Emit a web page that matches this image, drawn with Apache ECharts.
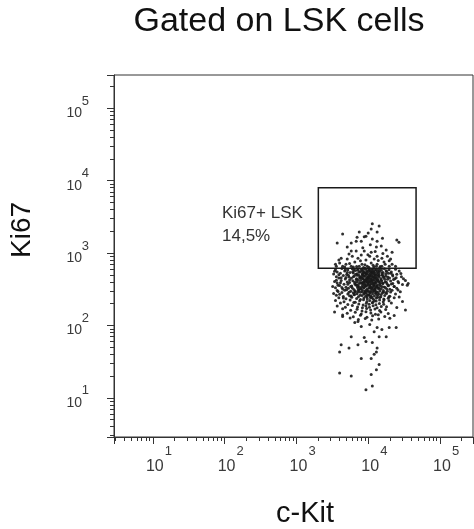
<!DOCTYPE html>
<html>
<head>
<meta charset="utf-8">
<script src="https://cdn.jsdelivr.net/npm/echarts@6/dist/echarts.min.js"></script>
<style>html,body{margin:0;padding:0;background:#fff}#c{width:474px;height:529px}</style>
</head>
<body>
<div id="c"></div>
<script>
// Axis extents (log scale, 5 decades shown)
const axisMin = 2.88;
const axisMax = 288000;
// Tick label parts: base and decade exponents
const tickBase = '10';
const tickExponents = {10: '1', 100: '2', 1000: '3', 10000: '4', 100000: '5'};
// Gate (c-Kit range, Ki67 range)
const gateCKit = [2020, 46400];
const gateKi67 = [617, 8000];
const gateLabel = ['Ki67+ LSK', '14,5%'];
const titleText = 'Gated on LSK cells';
const xName = 'c-Kit';
const yName = 'Ki67';

// Events inside the Ki67+ gate [c-Kit, Ki67]
const gatedCells = [
[11400,2530],[14200,2370],[11000,2150],[7500,1960],[13300,1960],[4400,1840],[9300,1710],[8800,1680],
[11400,1560],[25000,1510],[3700,1380],[5800,1380],[6800,1460],[8000,1460],[13300,1460],[26800,1410],
[5100,1210],[13000,1210],[15200,1250],[5800,1070],[6800,1070],[8800,1070],[11000,1030],[17800,1100],
[21500,1030],[5400,970],[8000,940],[10500,900],[13300,900],[18500,900],[4200,850],[5100,825],
[7200,850],[9300,800],[12100,825],[15500,850],[19600,780],[4000,730],[4900,700],[6500,750],
[8200,700],[11000,730],[13300,700],[16600,750],[21500,700],[3600,660],[4400,660],[5800,660],
[7500,660],[9700,660],[13000,660],[15500,660],[19600,660],[6200,640],[10200,635],[12000,645],
[8600,630],[14500,628],
[3500,700],[3900,800],[4700,640],[5500,720],[6000,900],[6900,650],[7800,780],[8400,1180],[9000,690],[9900,950],
[10700,1300],[11700,680],[12500,1050],[13800,790],[14700,650],[16000,990],[17200,700],[20500,830],[24000,660],
[7000,1650],[10000,1900],[15800,1600]
];

// Events in the main (Ki67 low) population [c-Kit, Ki67]
const mainCells = [
[3500,590],[4300,612],[5200,585],[6000,605],[7100,578],[8000,598],[9000,615],[10200,582],[11500,602],[12800,590],[14500,575],[16800,608],[19500,588],[24000,596],
[3700,548],[4700,566],[5600,540],[6600,572],[7700,555],[8600,538],[9600,568],[10800,551],[12000,544],[13600,562],[15500,535],[18000,558],[21000,547],[27000,565],
[3300,512],[4100,527],[5000,505],[6200,530],[7000,516],[8300,500],[9300,524],[10400,509],[11200,532],[12500,503],[14000,520],[15800,497],[17500,514],[20500,526],[25000,508],
[3600,472],[4500,489],[5400,466],[6400,484],[7400,492],[8100,470],[8900,478],[9800,461],[10600,486],[11700,474],[13000,465],[14300,490],[16300,476],[18800,468],[22000,483],[29000,471],
[3900,452],[4800,437],[5800,448],[6800,430],[7600,456],[8500,441],[9400,433],[10100,450],[11000,438],[12300,458],[13500,429],[15000,446],[17000,435],[19800,451],[23500,440],
[3400,405],[4200,418],[5100,398],[6100,414],[7000,402],[7900,421],[8700,395],[9500,411],[10300,404],[11300,419],[12600,396],[13900,408],[15400,415],[17200,400],[20500,412],[26000,406],[33000,417],
[3700,386],[4600,372],[5500,391],[6500,377],[7300,368],[8200,388],[9000,375],[9900,383],[10700,366],[11600,379],[12900,389],[14400,371],[16000,384],[18300,374],[22000,381],[30000,369],
[3200,344],[4000,357],[4900,338],[5900,352],[6700,361],[7500,341],[8400,355],[9200,347],[10000,359],[10900,336],[12000,350],[13200,343],[14700,356],[16600,339],[19000,353],[23000,346],[35000,358],
[3500,331],[4400,318],[5300,327],[6300,314],[7100,335],[7800,321],[8600,329],[9500,312],[10400,333],[11400,320],[12400,316],[13700,328],[15200,322],[17300,334],[20000,317],[25000,326],
[3800,294],[4700,307],[5700,298],[6600,289],[7400,305],[8300,292],[9100,302],[9800,296],[10800,287],[11900,304],[13100,293],[14600,300],[16300,290],[18500,297],[21500,306],[28000,291],
[3300,276],[4300,285],[5200,271],[6200,282],[7000,274],[7800,287],[8800,279],[9600,268],[10500,284],[11500,273],[12700,281],[14000,270],[15800,283],[18000,277],[24000,272],
[3600,262],[4500,251],[5500,257],[6400,265],[7300,249],[8200,260],[9200,253],[10100,263],[11100,247],[12200,256],[13400,261],[15000,250],[17000,259],[20000,254],[27000,248],
[3900,242],[4900,233],[5900,245],[6900,236],[7800,229],[8700,240],[9700,234],[10700,244],[11800,231],[13000,239],[14500,243],[16500,232],[19000,237],[23000,241],
[3500,221],[4600,213],[5600,224],[6600,210],[7600,219],[8600,226],[9600,214],[10500,222],[11600,209],[12900,217],[14400,225],[16200,212],[19500,220],[30000,215],
[4100,204],[5200,195],[6300,207],[7400,198],[8500,191],[9400,203],[10300,196],[11400,206],[12800,193],[14300,201],[16400,197],[21000,205],
[3700,186],[4800,178],[6000,188],[7100,180],[8300,175],[9300,185],[10400,179],[11700,187],[13300,176],[15200,183],[18000,181],[25000,177],
[4400,170],[5700,162],[7000,168],[8200,159],[9500,172],[10800,164],[12400,169],[14400,161],[17500,166],[33000,163],
[3400,154],[5100,147],[6600,152],[8000,144],[9300,155],[10900,149],[12600,143],[15000,153],[19000,146],
[4400,139],[6200,132],[7800,138],[9600,130],[11500,136],[13800,141],[17000,133],[23000,137],
[5600,127],[7300,121],[9100,125],[11200,119],[14000,123],[20000,126],
[8900,425],[10500,395],[11800,462],[9700,515],[12200,368],[8100,342],[10900,305],[9300,282],[11300,548],[13600,415],
[7700,470],[10000,436],[12600,327],[9000,360],[11100,488],[13300,352],[8600,398],[10700,570],[12000,424],[9500,457],
[14800,389],[7300,315],[11700,337],[10300,264],[8500,506],[12900,446],[9900,372],[13900,486],[11000,412],[8200,560],
[10600,347],[12500,296],[9100,530],[14200,331],[7900,382],[11900,388],[10200,480],[13100,540],[9300,405],[12300,505],
[3400,560],[3900,500],[4200,455],[3600,420],[4100,390],[3800,360],[4300,335],[3700,305],[4000,270],[4500,240],
[4800,590],[5100,540],[5300,495],[4900,460],[5500,425],[5200,370],[5700,345],[5000,312],[5400,288],[5800,255],
[6300,585],[6100,550],[6700,510],[6200,470],[6900,440],[6500,395],[6800,365],[6000,330],[6600,300],[6400,270],
[7200,600],[7500,545],[7000,495],[7800,455],[7300,425],[7600,392],[7100,352],[7900,322],[7200,292],[7700,262],
[8400,588],[8800,552],[8200,517],[8700,482],[8300,448],[8900,416],[8400,378],[8800,334],[8300,306],[8700,272],
[9200,596],[9600,544],[9400,502],[9900,468],[9200,428],[9700,398],[9400,353],[9800,322],[9100,292],[9600,249],
[10400,604],[10100,556],[10800,521],[10300,474],[10800,443],[10200,415],[10900,376],[10500,330],[10100,298],[10800,258],
[11300,592],[11800,562],[11500,514],[11100,470],[11600,432],[11300,401],[11800,361],[11200,326],[11600,291],[11300,241],
[12500,580],[12100,534],[12800,492],[12300,455],[12700,418],[12100,375],[12800,344],[12300,310],[12700,276],[12200,220],
[13800,596],[14200,548],[13500,505],[14000,468],[13600,430],[14100,397],[13400,362],[14000,318],[13700,286],[13500,245],
[15300,585],[16100,540],[15600,498],[16400,458],[15100,425],[16000,380],[15500,345],[16300,305],[15200,268],[16600,226],
[17800,570],[19000,525],[17600,480],[18600,436],[17900,395],[19200,360],[18100,318],[17500,282],[19400,250],[21800,500],
[22500,430],[21000,375],[24500,455],[23000,345],[20500,290],[26500,390],[31000,440],[28500,520],[36000,380],[26000,310]
];

// Sparse low-Ki67 tail [c-Kit, Ki67]
const tailCells = [
[4400,133],[7200,113],[6500,110],[8000,97],[10500,103],[12100,82],[13300,94],[15500,88],[19600,94],[24500,94],
[17800,70],[14200,70],[8800,68],[5800,70],[9300,60],[7200,54],[11400,58],[13300,49],[4200,54],[5400,49],
[4000,43],[13000,43],[12100,40],[8000,35],[11000,35],[14200,29],[13000,24.5],[4000,22],[5800,20],[11000,21],
[11400,14.6],[9300,12.9]
];

const FONT = '"Liberation Sans", Arial, Helvetica, sans-serif';
const LABEL_COLOR = '#3a3a3a';
const tickColor = '#333';
const chart = echarts.init(document.getElementById('c'), null, {renderer: 'canvas'});

const baseFmt = function () { return tickBase; };
const expFmt = function (v) {
  const key = Math.round(v);
  for (const k in tickExponents) { if (Math.abs(k - key) / k < 1e-6) return tickExponents[k]; }
  return '';
};

function mainAxis(extra) {
  return Object.assign({
    type: 'log', logBase: 10, min: axisMin, max: axisMax, gridIndex: 0,
    axisLine: {show: true, lineStyle: {color: tickColor, width: 1}},
    axisTick: {show: true, length: 7, lineStyle: {color: tickColor}},
    minorTick: {show: true, splitNumber: 9, length: 4, lineStyle: {color: tickColor}},
    splitLine: {show: false}, minorSplitLine: {show: false}
  }, extra);
}
function expAxis(extra) {
  return Object.assign({
    type: 'log', logBase: 10, min: axisMin, max: axisMax, gridIndex: 0,
    axisLine: {show: false}, axisTick: {show: false}, minorTick: {show: false},
    splitLine: {show: false}, minorSplitLine: {show: false}
  }, extra);
}

chart.setOption({
  animation: false,
  backgroundColor: '#fff',
  grid: {left: 114, right: 1, top: 75, bottom: 92, show: true, borderColor: '#333', borderWidth: 1, backgroundColor: 'transparent'},
  xAxis: [
    mainAxis({position: 'bottom', axisLabel: {show: true, margin: 22, showMinLabel: false, showMaxLabel: false, formatter: baseFmt,
      color: LABEL_COLOR, fontFamily: FONT, fontSize: 16, align: 'center', padding: [0, 0, 0, 4]}}),
    expAxis({position: 'bottom', axisLabel: {show: true, margin: 8, showMinLabel: false, showMaxLabel: false, formatter: expFmt,
      color: LABEL_COLOR, fontFamily: FONT, fontSize: 13, align: 'left', padding: [0, 0, 0, 12]}})
  ],
  yAxis: [
    mainAxis({position: 'left', axisLabel: {show: true, margin: 32, showMinLabel: false, showMaxLabel: false, formatter: baseFmt,
      color: LABEL_COLOR, fontFamily: FONT, fontSize: 14, align: 'right', verticalAlign: 'top', lineHeight: 10}}),
    expAxis({position: 'left', axisLabel: {show: true, margin: 25, showMinLabel: false, showMaxLabel: false, formatter: expFmt,
      color: LABEL_COLOR, fontFamily: FONT, fontSize: 13, align: 'right', verticalAlign: 'bottom', lineHeight: 14}})
  ],
  series: [
    {
      type: 'scatter', name: 'LSK', xAxisIndex: 0, yAxisIndex: 0,
      data: mainCells.concat(tailCells, gatedCells),
      symbol: 'circle', symbolSize: 3,
      itemStyle: {color: '#1a1a1a', opacity: 0.9},
      markArea: {
        silent: true,
        itemStyle: {color: 'rgba(0,0,0,0)', borderColor: '#1a1a1a', borderWidth: 1.5},
        label: {show: false},
        data: [[{coord: [gateCKit[0], gateKi67[0]]}, {coord: [gateCKit[1], gateKi67[1]]}]]
      }
    }
  ],
  graphic: [
    {type: 'text', x: 279, y: 22, style: {text: titleText, font: '34px ' + FONT, fill: '#111', align: 'center', verticalAlign: 'middle'}},
    {type: 'text', x: 22, y: 230, rotation: Math.PI / 2, style: {text: yName, font: '28px ' + FONT, fill: '#111', align: 'center', verticalAlign: 'middle'}},
    {type: 'text', x: 305, y: 514, style: {text: xName, font: '29px ' + FONT, fill: '#111', align: 'center', verticalAlign: 'middle'}},
    {type: 'text', x: 222, y: 213, style: {text: gateLabel[0], font: '17px ' + FONT, fill: '#333', align: 'left', verticalAlign: 'middle'}},
    {type: 'text', x: 222, y: 236, style: {text: gateLabel[1], font: '17px ' + FONT, fill: '#333', align: 'left', verticalAlign: 'middle'}}
  ]
});
</script>
</body>
</html>
